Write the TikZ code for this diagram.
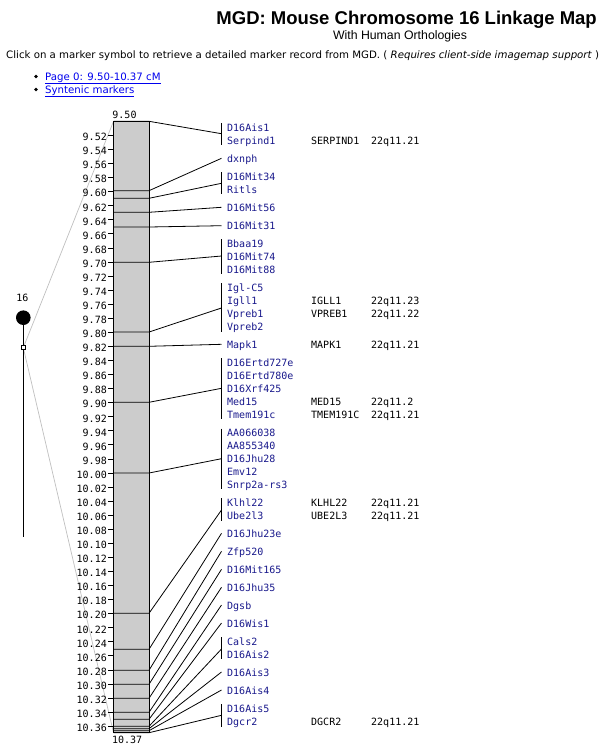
\documentclass[tikz,border=0pt]{standalone}
\usepackage{fontspec}
\setmainfont{DejaVu Sans}
\newfontfamily\titlefont{Liberation Sans}
\newfontfamily\monofont{DejaVu Sans Mono}
\definecolor{mkcol}{RGB}{25,25,140}
\definecolor{lnkcol}{RGB}{0,0,238}
\definecolor{barfill}{RGB}{204,204,204}
\definecolor{guide}{RGB}{192,192,192}
\begin{document}
\begin{tikzpicture}[x=1pt,y=-1pt,
  mono/.style={inner sep=0pt,font=\monofont\fontsize{10}{12}\selectfont},
  mk/.style={mono,anchor=base west,text=mkcol},
  orth/.style={mono,anchor=base west},
  axl/.style={mono,anchor=base east},
  ln/.style={line width=0.8pt,black},
  guideline/.style={line width=0.7pt,guide},
  bulletdot/.style={circle,fill=black,minimum size=3.6pt,inner sep=0pt}]
\useasboundingbox (0,0) rectangle (602,747);
\fill[white] (0,0) rectangle (602,747);

% ---------- header ----------
\node[anchor=base east,inner sep=0pt,font=\titlefont\bfseries\fontsize{18.5}{22}\selectfont] (title) at (597,24) {MGD: Mouse Chromosome 16 Linkage Map};
\node[anchor=base,inner sep=0pt,font=\titlefont\fontsize{12.3}{14}\selectfont] (subtitle) at (400,39.4) {With Human Orthologies};
\node[anchor=base west,inner sep=0pt] (click) at (6,58) {\resizebox{593pt}{!}{\fontsize{10}{12}\selectfont Click on a marker symbol to retrieve a detailed marker record from MGD. ( \textit{Requires client-side imagemap support} )}};
\node[bulletdot] (bul1) at (36,76.5) {};
\node[bulletdot] (bul2) at (36,89.5) {};
\node[anchor=base west,inner sep=0pt,text=lnkcol,font=\fontsize{10.2}{12}\selectfont] (page0) at (45,80) {\underline{Page 0: 9.50-10.37 cM}};
\node[anchor=base west,inner sep=0pt,text=lnkcol,font=\fontsize{10.2}{12}\selectfont] (synt) at (45,93) {\underline{Syntenic markers}};

% ---------- chromosome ideogram ----------
\node[mono,anchor=base] (chrlab) at (22.5,301) {16};
\coordinate (bartl) at (113.5,121.3);
\coordinate (barbl) at (113.5,732.7);
\coordinate (chrbot) at (23.3,537.3);
\coordinate (sqc) at (23.3,347.7);
\draw[guideline] (sqc) -- (bartl);
\draw[guideline] (sqc) -- (barbl);
\node[circle,fill=black,minimum size=14.6pt,inner sep=0pt] (cen) at (23.3,317.7) {};
\draw[ln] (cen) -- (chrbot);
\node[draw=black,fill=white,line width=0.7pt,minimum size=4.2pt,inner sep=0pt] (sq) at (sqc) {};

% ---------- bar ----------
\draw[ln,fill=barfill] (113.5,121.3) rectangle (149,732.7);
\node[mono,anchor=base] (top) at (124.5,118.5) {9.50};
\node[mono,anchor=base] (bot) at (127.2,743.5) {10.37};
\foreach \t in {9.52,9.54,9.56,9.58,9.60,9.62,9.64,9.66,9.68,9.70,9.72,9.74,9.76,9.78,9.80,9.82,9.84,9.86,9.88,9.90,9.92,9.94,9.96,9.98,10.00,10.02,10.04,10.06,10.08,10.10,10.12,10.14,10.16,10.18,10.20,10.22,10.24,10.26,10.28,10.30,10.32,10.34,10.36}{
  \pgfmathsetmacro{\yy}{121.3+(\t-9.5)*703.4}
  \draw[ln] (108,\yy) -- (113.5,\yy);
  \node[axl] (ax\t) at (107,\yy+5.3) {\t};
}

% ---------- connectors (bar line -> bracket) ----------
\foreach \i/\by/\ky in {1/121.3/133.7,2/190.7/158.3,3/198.3/183.3,4/212.3/207.3,5/227/225.7,6/262.3/256,7/332/308,8/346.3/344.3,9/402.3/388.3,10/473/458.7,11/613.3/510,12/649.3/533.3,13/670.3/551.3,14/684.3/569.3,15/698.3/587.3,16/712.3/605,17/719.3/623,18/726.3/649,19/728.7/672,20/730.7/690,21/732.7/715.3}{
  \coordinate (L\i) at (113.5,\by);
  \coordinate (R\i) at (149,\by);
  \coordinate (K\i) at (221.5,\ky);
  \draw[ln] (L\i) -- (R\i) -- (K\i);
}

% ---------- brackets ----------
\foreach \j/\ta/\tb in {1/123.3/145.3,2/172.3/194.3,3/239.3/274,4/283.3/331.7,5/358.3/419.3,6/428.7/489.3,7/498/520.7,8/637.3/659.3,9/704/726.7}{
  \coordinate (BT\j) at (221.5,\ta);
  \coordinate (BB\j) at (221.5,\tb);
  \draw[ln] (BT\j) -- (BB\j);
}

% ---------- marker names ----------
\foreach \n/\y/\s in {1/128.3/D16Ais1,2/141.3/Serpind1,3/159.3/dxnph,4/177/D16Mit34,5/190/Ritls,6/208/D16Mit56,7/226/D16Mit31,8/244/Bbaa19,9/257/D16Mit74,10/270/D16Mit88,11/288/Igl-C5,12/301/Igll1,13/314/Vpreb1,14/327/Vpreb2,15/345/Mapk1,16/363/D16Ertd727e,17/376/D16Ertd780e,18/389/D16Xrf425,19/402/Med15,20/415/Tmem191c,21/433/AA066038,22/446/AA855340,23/459/D16Jhu28,24/472/Emv12,25/485/Snrp2a-rs3,26/503/Klhl22,27/516/Ube2l3,28/534/D16Jhu23e,29/552/Zfp520,30/570/D16Mit165,31/588/D16Jhu35,32/606/Dgsb,33/624/D16Wis1,34/642/Cals2,35/655/D16Ais2,36/673/D16Ais3,37/691/D16Ais4,38/709/D16Ais5,39/722/Dgcr2}{
  \node[mk] (m\n) at (227,\y+3.5) {\s};
}

% ---------- human orthologies ----------
\foreach \n/\y/\g/\c in {1/141.3/SERPIND1/22q11.21,2/301/IGLL1/22q11.23,3/314/VPREB1/22q11.22,4/345/MAPK1/22q11.21,5/402/MED15/22q11.2,6/415/TMEM191C/22q11.21,7/503/KLHL22/22q11.21,8/516/UBE2L3/22q11.21,9/722/DGCR2/22q11.21}{
  \node[orth] (h\n) at (311,\y+3.5) {\g};
  \node[orth] (c\n) at (371,\y+3.5) {\c};
}
\end{tikzpicture}
\end{document}
